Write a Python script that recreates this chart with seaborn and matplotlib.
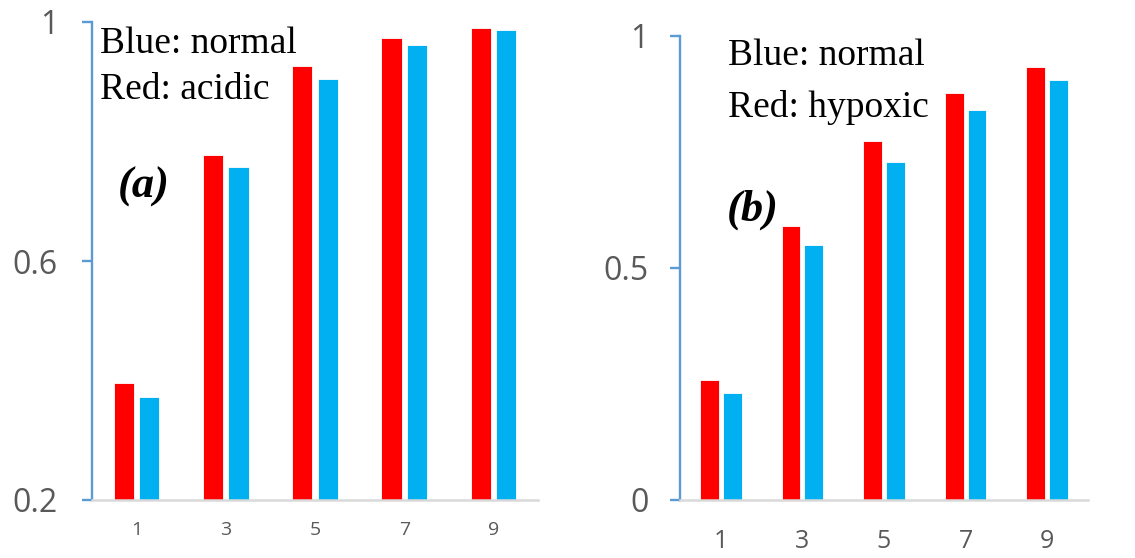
import matplotlib
matplotlib.use("Agg")
import matplotlib.pyplot as plt
import seaborn as sns
import pandas as pd

# Fraction values per step, panel (a): acidic vs normal, panel (b): hypoxic vs normal
steps = ["1", "3", "5", "7", "9"]
acidic = [0.395, 0.778, 0.927, 0.973, 0.990]
normal_a = [0.373, 0.758, 0.905, 0.962, 0.987]
hypoxic = [0.259, 0.591, 0.773, 0.878, 0.933]
normal_b = [0.231, 0.549, 0.729, 0.840, 0.906]

yticks_a = [0.2, 0.6, 1.0]
yticklabels_a = ["0.2", "0.6", "1"]
yticks_b = [0.0, 0.5, 1.0]
yticklabels_b = ["0", "0.5", "1"]

RED = "#FF0000"
BLUE = "#00B0F0"
AXIS_BLUE = "#5B9BD5"
GRID_GREY = "#D9D9D9"
LABEL_GREY = "#595959"


def long_frame(cond_vals, cond_name, norm_vals):
    return pd.DataFrame({
        "step": steps * 2,
        "value": list(cond_vals) + list(norm_vals),
        "group": [cond_name] * len(steps) + ["normal"] * len(steps),
    })


sns.set_theme(style="white")
plt.rcParams["font.family"] = ["Open Sans", "DejaVu Sans"]

W, H = 1135, 558
fig = plt.figure(figsize=(W / 100, H / 100), dpi=100)


def px_axes(x0, x1, y_top, y_bot):
    return fig.add_axes([x0 / W, (H - y_bot) / H, (x1 - x0) / W, (y_bot - y_top) / H])


ax_a = px_axes(92, 538, 22, 500)
ax_b = px_axes(680, 1088, 36, 500)


def draw_panel(ax, df, cond_name, ylim, yticks, yticklabels,
               xfs, yfs, ypad, xpad, width, gap):
    sns.barplot(data=df, x="step", y="value", hue="group",
                hue_order=[cond_name, "normal"], order=steps,
                palette=[RED, BLUE], saturation=1, width=width, gap=gap,
                edgecolor="#FFFFFF", linewidth=0.6, legend=False, ax=ax)
    ax.set_ylim(*ylim)
    ax.set_yticks(yticks)
    ax.set_yticklabels(yticklabels)
    ax.set_xlabel("")
    ax.set_ylabel("")
    for s in ("top", "right"):
        ax.spines[s].set_visible(False)
    ax.spines["left"].set_color(AXIS_BLUE)
    ax.spines["left"].set_linewidth(1.7)
    ax.spines["bottom"].set_color(GRID_GREY)
    ax.spines["bottom"].set_linewidth(1.8)
    ax.tick_params(axis="y", direction="out", length=7.5, width=1.7,
                   color=AXIS_BLUE, labelcolor=LABEL_GREY, labelsize=yfs, pad=ypad,
                   left=True)
    ax.tick_params(axis="x", length=0, labelcolor=LABEL_GREY, labelsize=xfs, pad=xpad)


draw_panel(ax_a, long_frame(acidic, "acidic", normal_a), "acidic",
           (0.2, 1.0), yticks_a, yticklabels_a,
           xfs=14, yfs=23, ypad=17, xpad=15, width=0.57, gap=0.21)
draw_panel(ax_b, long_frame(hypoxic, "hypoxic", normal_b), "hypoxic",
           (0.0, 1.0), yticks_b, yticklabels_b,
           xfs=18, yfs=23, ypad=15, xpad=21, width=0.56, gap=0.18)

serif = ["Liberation Serif", "DejaVu Serif"]
ax_a.text(0.018, 0.935, "Blue: normal", transform=ax_a.transAxes,
          family=serif, fontsize=27, va="baseline", ha="left", color="black")
ax_a.text(0.018, 0.839, "Red: acidic", transform=ax_a.transAxes,
          family=serif, fontsize=27, va="baseline", ha="left", color="black")
ax_a.text(0.058, 0.655, "(a)", transform=ax_a.transAxes, family=serif,
          fontsize=32, fontweight="bold", fontstyle="italic",
          va="center", ha="left", color="black")

ax_b.text(0.1176, 0.938, "Blue: normal", transform=ax_b.transAxes,
          family=serif, fontsize=27, va="baseline", ha="left", color="black")
ax_b.text(0.1176, 0.826, "Red: hypoxic", transform=ax_b.transAxes,
          family=serif, fontsize=27, va="baseline", ha="left", color="black")
ax_b.text(0.115, 0.625, "(b)", transform=ax_b.transAxes, family=serif,
          fontsize=32, fontweight="bold", fontstyle="italic",
          va="center", ha="left", color="black")

fig.savefig("out.png", dpi=100, facecolor="white")
